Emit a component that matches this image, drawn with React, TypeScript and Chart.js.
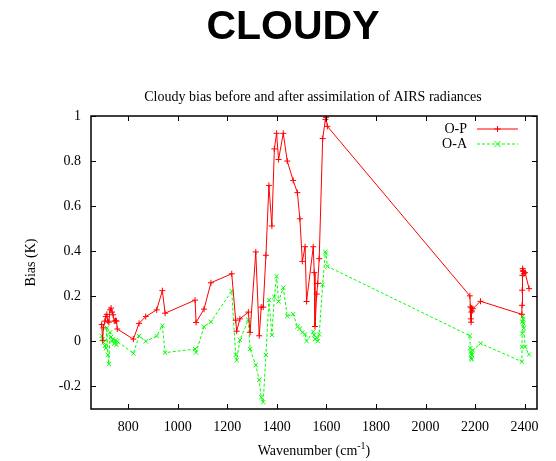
import { useEffect, useRef } from "react";
import { Chart, registerables } from "chart.js";

Chart.register(...registerables);

// AIRS channel wavenumbers (cm-1) and cloudy-sky biases (K)
const wavenumbers = [
  693, 697, 700, 706, 710, 714, 718, 722, 727, 731, 735, 739, 744, 749, 753, 756,
  821, 844, 871, 915, 938, 949,
  1070, 1074, 1106, 1134, 1218, 1234, 1238, 1251, 1285, 1292, 1315, 1329, 1337, 1345,
  1356, 1368, 1380, 1390, 1399, 1407, 1426, 1442, 1466, 1483, 1493, 1503, 1514, 1520,
  1547, 1551, 1554, 1561, 1565, 1571, 1585, 1596, 1598, 1604,
  2179, 2181, 2183, 2184, 2185, 2186, 2188, 2191, 2222,
  2389, 2389.5, 2390, 2391, 2392, 2393, 2395, 2397, 2402, 2418,
];

// Observation minus background
const biasBefore = [
  0.075, 0.005, 0.06, 0.09, 0.11, 0.12, 0.09, 0.085, 0.14, 0.148, 0.13, 0.118, 0.09, 0.092, 0.09, 0.055,
  0.01, 0.08, 0.11, 0.14, 0.225, 0.125,
  0.183, 0.084, 0.143, 0.26, 0.3, 0.094, 0.045, 0.1, 0.13, 0.04, 0.397, 0.025, 0.152, 0.152,
  0.382, 0.692, 0.512, 0.854, 0.923, 0.807, 0.923, 0.8, 0.714, 0.66, 0.544, 0.355, 0.42, 0.177,
  0.42, 0.305, 0.066, 0.21, 0.257, 0.367, 0.9, 0.985, 0.994, 0.954,
  0.202, 0.153, 0.1, 0.085, 0.13, 0.148, 0.135, 0.145, 0.178,
  0.12, 0.16, 0.227, 0.293, 0.323, 0.315, 0.31, 0.3, 0.305, 0.234,
];

// Observation minus analysis
const biasAfter = [
  0.025, 0.01, -0.005, -0.02, -0.03, 0.06, -0.06, -0.1, 0.04, 0.02, 0.0, 0.01, -0.01, 0.005, -0.015, 0.0,
  -0.053, 0.024, 0.0, 0.024, 0.07, -0.05,
  -0.034, -0.049, 0.065, 0.087, 0.223, -0.06, -0.083, 0.006, 0.096, -0.034, -0.105, -0.171, -0.248, -0.27,
  -0.06, 0.183, 0.028, 0.197, 0.289, 0.177, 0.238, 0.112, 0.121, 0.065, 0.057, 0.04, 0.031, 0.002,
  0.043, 0.028, 0.01, 0.016, 0.001, 0.031, 0.252, 0.397, 0.39, 0.333,
  0.025, -0.03, -0.045, -0.075, -0.055, -0.08, -0.06, -0.04, -0.009,
  -0.09, -0.024, 0.035, 0.087, 0.11, 0.1, 0.08, 0.058, -0.024, -0.058,
];

const seriesLabels = ["O-P", "O-A"];
const seriesColors = ["#ff0000", "#00ff00"];

const xTickValues = [800, 1000, 1200, 1400, 1600, 1800, 2000, 2200, 2400];
const yTickValues = [-0.2, 0, 0.2, 0.4, 0.6, 0.8, 1];
const yTickLabels = ["-0.2", "0", "0.2", "0.4", "0.6", "0.8", "1"];

const pageTitle = "CLOUDY";
const chartTitle = "Cloudy bias before and after assimilation of AIRS radiances";
const xAxisTitle = "Wavenumber (cm";
const xAxisTitleSup = "-1";
const xAxisTitleEnd = ")";
const yAxisTitle = "Bias (K)";

const SERIF = "'Liberation Serif', 'Times New Roman', serif";
const SANS = "'Liberation Sans', Arial, sans-serif";

function drawMarker(ctx: CanvasRenderingContext2D, style: string, x: number, y: number, r: number) {
  ctx.beginPath();
  if (style === "cross") {
    ctx.moveTo(x - r, y);
    ctx.lineTo(x + r, y);
    ctx.moveTo(x, y - r);
    ctx.lineTo(x, y + r);
  } else {
    ctx.moveTo(x - r, y - r);
    ctx.lineTo(x + r, y + r);
    ctx.moveTo(x - r, y + r);
    ctx.lineTo(x + r, y - r);
  }
  ctx.stroke();
}

// Frame, inward ticks, tick labels, titles and key
const framePlugin = {
  id: "gnuplotFrame",
  afterDraw(chart: any) {
    const { ctx, chartArea: a, scales } = chart;
    const xs = scales.x;
    const ys = scales.y;
    ctx.save();

    // border
    ctx.strokeStyle = "#000";
    ctx.lineWidth = 1.5;
    ctx.strokeRect(a.left, a.top, a.right - a.left, a.bottom - a.top);

    // ticks (mirrored on all four sides, pointing inward)
    const tl = 5;
    ctx.lineWidth = 1;
    ctx.beginPath();
    xTickValues.forEach((v) => {
      const px = Math.round(xs.getPixelForValue(v)) + 0.5;
      ctx.moveTo(px, a.bottom);
      ctx.lineTo(px, a.bottom - tl);
      ctx.moveTo(px, a.top);
      ctx.lineTo(px, a.top + tl);
    });
    yTickValues.forEach((v) => {
      const py = Math.round(ys.getPixelForValue(v)) + 0.5;
      ctx.moveTo(a.left, py);
      ctx.lineTo(a.left + tl, py);
      ctx.moveTo(a.right, py);
      ctx.lineTo(a.right - tl, py);
    });
    ctx.stroke();

    // tick labels
    ctx.fillStyle = "#000";
    ctx.font = `14px ${SERIF}`;
    ctx.textAlign = "center";
    ctx.textBaseline = "middle";
    xTickValues.forEach((v) => {
      ctx.fillText(String(v), xs.getPixelForValue(v), a.bottom + 18);
    });
    ctx.textAlign = "right";
    yTickValues.forEach((v, i) => {
      ctx.fillText(yTickLabels[i], a.left - 10, ys.getPixelForValue(v));
    });

    // axis titles
    const cx = (a.left + a.right) / 2;
    ctx.font = `14px ${SERIF}`;
    ctx.textAlign = "left";
    ctx.textBaseline = "alphabetic";
    const w1 = ctx.measureText(xAxisTitle).width;
    ctx.font = `10px ${SERIF}`;
    const w2 = ctx.measureText(xAxisTitleSup).width;
    ctx.font = `14px ${SERIF}`;
    const w3 = ctx.measureText(xAxisTitleEnd).width;
    let tx = cx - (w1 + w2 + w3) / 2;
    const base = a.bottom + 46;
    ctx.fillText(xAxisTitle, tx, base);
    tx += w1;
    ctx.font = `10px ${SERIF}`;
    ctx.fillText(xAxisTitleSup, tx, base - 6);
    tx += w2;
    ctx.font = `14px ${SERIF}`;
    ctx.fillText(xAxisTitleEnd, tx, base);

    ctx.save();
    ctx.translate(31, (a.top + a.bottom) / 2);
    ctx.rotate(-Math.PI / 2);
    ctx.textAlign = "center";
    ctx.textBaseline = "middle";
    ctx.fillText(yAxisTitle, 0, 0);
    ctx.restore();

    // plot title
    ctx.textAlign = "center";
    ctx.textBaseline = "middle";
    ctx.font = `14px ${SERIF}`;
    ctx.fillText(chartTitle, cx - 1, a.top - 19);

    // page heading
    ctx.font = `bold 41px ${SANS}`;
    ctx.fillText(pageTitle, 293, 28);

    // key
    chart.data.datasets.forEach((ds: any, i: number) => {
      const ky = a.top + 13 + i * 15;
      ctx.font = `14px ${SERIF}`;
      ctx.textAlign = "right";
      ctx.textBaseline = "middle";
      ctx.fillStyle = "#000";
      ctx.fillText(ds.label, a.right - 70, ky);
      ctx.strokeStyle = ds.borderColor;
      ctx.lineWidth = 1;
      ctx.setLineDash(ds.borderDash || []);
      ctx.beginPath();
      ctx.moveTo(a.right - 60, ky);
      ctx.lineTo(a.right - 19, ky);
      ctx.stroke();
      ctx.setLineDash([]);
      drawMarker(ctx, ds.pointStyle, a.right - 39.5, ky, 3);
    });

    ctx.restore();
  },
};

export default function App() {
  const canvasRef = useRef<HTMLCanvasElement | null>(null);

  useEffect(() => {
    const canvas = canvasRef.current;
    if (!canvas) return;
    const chart = new Chart(canvas, {
      type: "line",
      data: {
        datasets: [
          {
            label: seriesLabels[0],
            data: wavenumbers.map((w, i) => ({ x: w, y: biasBefore[i] })),
            borderColor: seriesColors[0],
            backgroundColor: seriesColors[0],
            borderWidth: 1,
            pointStyle: "cross",
            pointRadius: 3,
            pointBorderWidth: 1,
            pointBorderColor: seriesColors[0],
            fill: false,
            tension: 0,
          },
          {
            label: seriesLabels[1],
            data: wavenumbers.map((w, i) => ({ x: w, y: biasAfter[i] })),
            borderColor: seriesColors[1],
            backgroundColor: seriesColors[1],
            borderWidth: 1,
            borderDash: [3, 2],
            pointStyle: "crossRot",
            pointRadius: 3,
            pointBorderWidth: 1,
            pointBorderColor: seriesColors[1],
            fill: false,
            tension: 0,
          },
        ],
      },
      options: {
        animation: false,
        responsive: false,
        devicePixelRatio: 1,
        layout: { padding: { left: 91, right: 19, top: 116, bottom: 52 } },
        plugins: {
          legend: { display: false },
          title: { display: false },
          tooltip: { enabled: false },
        },
        scales: {
          x: { type: "linear", min: 650, max: 2450, display: false },
          y: { type: "linear", min: -0.3, max: 1, display: false },
        },
      },
      plugins: [framePlugin],
    });
    return () => chart.destroy();
  }, []);

  return (
    <div style={{ position: "absolute", left: 0, top: 0, width: 556, height: 461, background: "#fff" }}>
      <canvas ref={canvasRef} width={556} height={461} />
    </div>
  );
}
